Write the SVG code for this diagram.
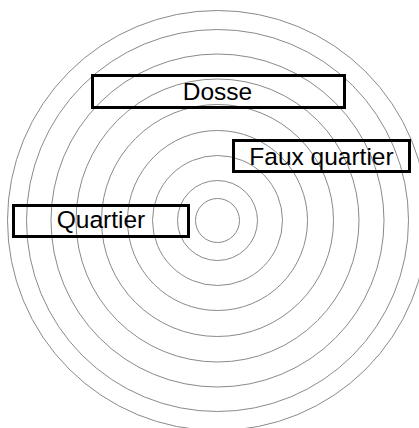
<svg xmlns="http://www.w3.org/2000/svg" width="419" height="428" viewBox="0 0 419 428">
<style>
.ring{fill:none;stroke:#8a8a8a;stroke-width:1}
.box{fill:none;stroke:#000;stroke-width:3}
.lbl{font-family:"Liberation Sans",Arial,sans-serif;font-size:24.5px;fill:#000;text-anchor:middle}
</style>
<rect width="419" height="428" fill="#fff"/>
<g id="rings">
<circle class="ring" cx="217.5" cy="220.5" r="22"/>
<circle class="ring" cx="217.5" cy="220.5" r="40"/>
<circle class="ring" cx="217.5" cy="220.5" r="65"/>
<circle class="ring" cx="217.5" cy="220.5" r="90"/>
<circle class="ring" cx="217.5" cy="220.5" r="116"/>
<circle class="ring" cx="217.5" cy="220.5" r="141.5"/>
<circle class="ring" cx="217.5" cy="220.5" r="166.5"/>
<circle class="ring" cx="217.5" cy="220.5" r="191"/>
<circle class="ring" cx="217.5" cy="220.5" r="210"/>
</g>
<g id="connectors"/>
<g id="dosse">
<rect class="box" x="92.5" y="75.5" width="252" height="32"/>
<text class="lbl" x="217.5" y="99.5">Dosse</text>
</g>
<g id="faux-quartier">
<rect class="box" x="233.5" y="140.5" width="176" height="31"/>
<text class="lbl" x="321.5" y="164.5">Faux quartier</text>
</g>
<g id="quartier">
<rect class="box" x="13.5" y="205.5" width="175" height="31"/>
<text class="lbl" x="101" y="228">Quartier</text>
</g>
</svg>
